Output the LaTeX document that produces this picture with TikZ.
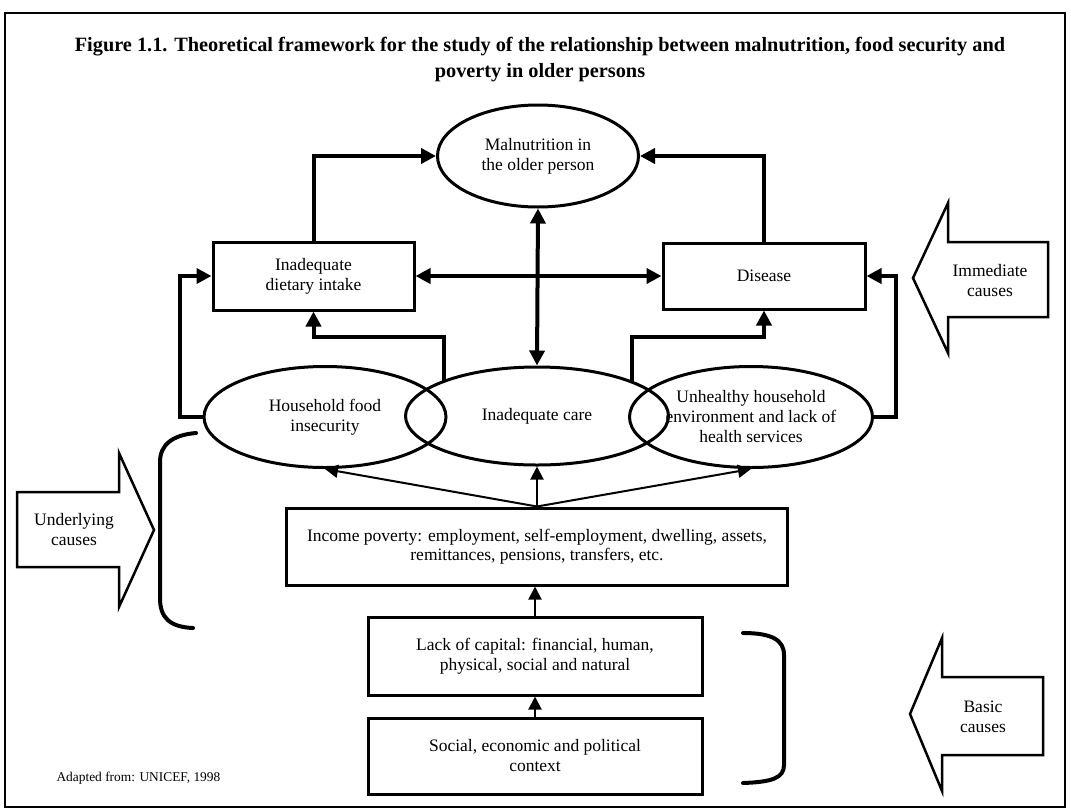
\documentclass[tikz,border=0pt]{standalone}
\usepackage{fontspec}
\setmainfont{Liberation Serif}
\usetikzlibrary{shapes.geometric,arrows.meta}
\begin{document}
\begin{tikzpicture}[x=1pt,y=-1pt,
 bodytext/.style={font=\fontsize{17.5}{20}\selectfont, align=center},
 boxnode/.style={draw, line width=3pt, rectangle, inner sep=0pt, bodytext},
 ellnode/.style={draw, line width=3pt, ellipse, inner sep=0pt, bodytext},
 thk/.style={line width=4pt, -{Triangle[length=15pt,width=15pt]}},
 thkboth/.style={line width=4pt, {Triangle[length=15pt,width=15pt]}-{Triangle[length=15pt,width=15pt]}},
 thn/.style={line width=2pt, -{Triangle[length=13pt,width=13pt]}},
 blockarrow/.style={draw, line width=2.5pt, line join=miter},
 bracketline/.style={line width=4pt, line cap=round},
]
\useasboundingbox (0,0) rectangle (1071,809);
\draw[line width=2.5pt] (5,13) rectangle (1065,807);

\node[font=\fontsize{20.3}{26}\selectfont\bfseries, align=center] (title) at (540,60)
 {Figure 1.1. Theoretical framework for the study of the relationship between malnutrition, food security and\\poverty in older persons};

\node[ellnode, minimum width=201pt, minimum height=102pt] (mal) at (538,156) {Malnutrition in\\the older person};
\node[boxnode, minimum width=201pt, minimum height=68pt] (diet) at (313.5,276) {Inadequate\\dietary intake};
\node[boxnode, minimum width=202pt, minimum height=66pt] (dis) at (764,276) {Disease};
\node[ellnode, minimum width=242pt, minimum height=101pt] (hh) at (325,417) {Household food\\insecurity};
\node[ellnode, minimum width=263pt, minimum height=98pt] (care) at (537,416) {Inadequate care};
\node[ellnode, minimum width=243pt, minimum height=101pt] (unh) at (751,417) {Unhealthy household\\environment and lack of\\health services};

\node[boxnode, minimum width=501pt, minimum height=77pt, font=\fontsize{17.5}{19}\selectfont] (inc) at (537,546.5)
 {Income poverty: employment, self-employment, dwelling, assets,\\remittances, pensions, transfers, etc.};
\node[boxnode, minimum width=334pt, minimum height=78pt] (cap) at (535,656)
 {Lack of capital: financial, human,\\physical, social and natural};
\node[boxnode, minimum width=334pt, minimum height=76pt] (soc) at (535,756)
 {Social, economic and political\\context};

% block arrows
\draw[blockarrow] (17,492) -- (119,492) -- (119,453) -- (154,530) -- (119,607) -- (119,567) -- (17,567) -- cycle;
\node[bodytext] (under) at (74,530) {Underlying\\causes};
\draw[blockarrow] (1048,242) -- (948,242) -- (948,203) -- (913,278) -- (948,353) -- (948,317) -- (1048,317) -- cycle;
\node[bodytext] (immed) at (990,281) {Immediate\\causes};
\draw[blockarrow] (1043,677) -- (942,677) -- (942,638) -- (910,714) -- (942,791) -- (942,755) -- (1043,755) -- cycle;
\node[bodytext] (basic) at (983,717) {Basic\\causes};

\node[font=\fontsize{13.4}{15}\selectfont, anchor=west] (src) at (53,778) {Adapted from: UNICEF, 1998};

% brackets
\draw[bracketline] (196,433) .. controls (172,435) and (160,445) .. (160,462) -- (160,598) .. controls (160,618) and (170,627) .. (193,628);
\draw[bracketline] (743,633) .. controls (772,633) and (784,640) .. (784,655) -- (784,765) .. controls (784,778) and (772,782) .. (743,783);

% thick connectors
\draw[thk] (diet.north) |- (mal.west);
\draw[thk] (dis.north) |- (mal.east);
\draw[thkboth] (diet.east) -- (dis.west);
\draw[thkboth] (mal.south) -- (care.north);
\draw[thk] (hh.west) -- ++(-23,0) |- (diet.west);
\draw[thk] (unh.east) -- ++(22,0) |- (dis.east);
\coordinate (cl) at (444,381);
\coordinate (cr) at (632,383);
\draw[thk] (cl) -- (444,337) -| (diet.south);
\draw[thk] (cr) -- (632,337) -| (dis.south);

% thin connectors
\draw[thn] (inc.north) -- (hh.south);
\draw[thn] (inc.north) -- (care.south);
\draw[thn] (inc.north) -- (unh.south);
\draw[thn] (cap.north) -- (cap.north |- inc.south);
\draw[thn] (soc.north) -- (soc.north |- cap.south);
\end{tikzpicture}
\end{document}
